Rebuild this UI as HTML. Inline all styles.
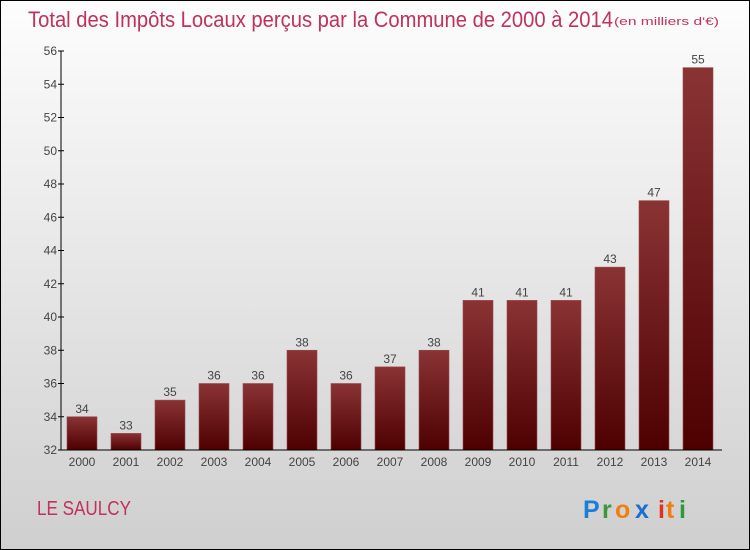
<!DOCTYPE html>
<html><head><meta charset="utf-8"><style>
body{margin:0}
#c{position:relative;width:748px;height:548px;border:1px solid #000;background:linear-gradient(#fdfdfd,#cfcfcf);font-family:"Liberation Sans",sans-serif;overflow:hidden}
</style></head><body>
<div id="c">
<svg width="748" height="548" id="svg">
<defs><linearGradient id="bg" x1="0" y1="0" x2="0" y2="1"><stop offset="0" stop-color="#8a3335"/><stop offset="1" stop-color="#4e0000"/></linearGradient></defs>
<text x="27" y="26" font-size="22" fill="#c0315c" textLength="585" lengthAdjust="spacingAndGlyphs">Total des Impôts Locaux perçus par la Commune de 2000 à 2014</text>
<text x="613" y="24" font-size="11" fill="#c0315c" textLength="105" lengthAdjust="spacingAndGlyphs">(en milliers d'€)</text>
<text x="36" y="514" font-size="20" fill="#c0315c" textLength="94" lengthAdjust="spacingAndGlyphs">LE SAULCY</text>
<g font-size="25" font-weight="bold"><text x="582" y="517" fill="#1a7fd8">P</text><text x="601" y="517" fill="#3a9a3a">r</text><text x="614" y="517" fill="#f07f10">o</text><text x="634" y="517" fill="#1a6fd0">x</text><text x="657" y="517" fill="#e03020">i</text><text x="665" y="517" fill="#f07f10">t</text><text x="678" y="517" fill="#2a9a3a">i</text></g>
<g id="plot"></g>
</svg></div>
<script>
const years=["2000","2001","2002","2003","2004","2005","2006","2007","2008","2009","2010","2011","2012","2013","2014"];
const values=[34,33,35,36,36,38,36,37,38,41,41,41,43,47,55];
const yTicks=[32,34,36,38,40,42,44,46,48,50,52,54,56];
const ns="http://www.w3.org/2000/svg",g=document.getElementById('plot');
const y=v=>449-(v-32)*(399/24);
const x=i=>81+i*44;
function el(t,a,txt){const e=document.createElementNS(ns,t);for(const k in a)e.setAttribute(k,a[k]);if(txt!==undefined)e.textContent=txt;g.appendChild(e);return e;}
values.forEach((v,i)=>{
 const b=el('rect',{x:x(i)-15,y:y(v),width:30,height:y(32)-y(v),fill:'url(#bg)',stroke:'#9a4a4c','stroke-width':0.6});
 
 
 const t=el('text',{x:x(i),y:y(v)-4,'text-anchor':'middle','font-size':12,fill:'#444'},v);
 
 
 const l=el('text',{x:x(i),y:465,'text-anchor':'middle','font-size':12,fill:'#444'},years[i]);
 
 
});
const ya=el('line',{x1:60,y1:y(56),x2:60,y2:y(32),stroke:'#000'});


const xa=el('line',{x1:60,y1:y(32),x2:721,y2:y(32),stroke:'#000'});


yTicks.forEach(v=>{
 el('line',{x1:57,y1:y(v),x2:63,y2:y(v),stroke:'#000'});
 const t=el('text',{x:56,y:y(v)+4,'text-anchor':'end','font-size':12,fill:'#444'},v);
 
 
});
</script>
</body></html>
